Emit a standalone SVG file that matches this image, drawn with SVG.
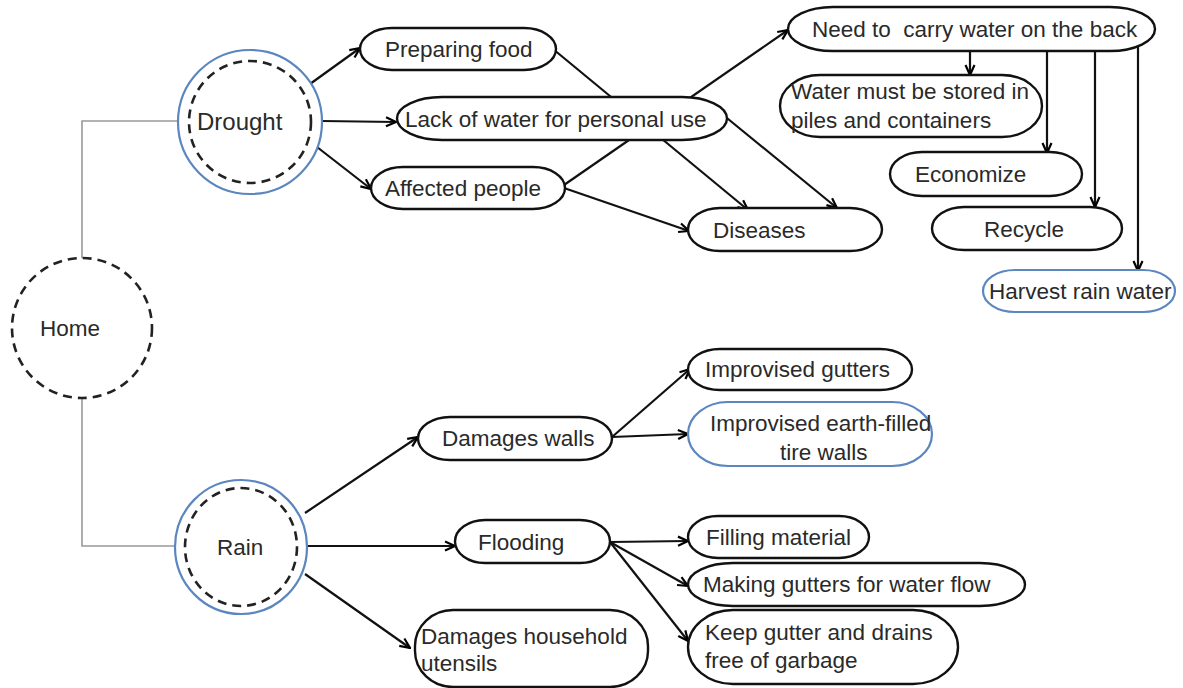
<svg xmlns="http://www.w3.org/2000/svg" width="1183" height="688" viewBox="0 0 1183 688">
<defs>
<marker id="arr" viewBox="0 0 12 12" refX="11" refY="6" markerWidth="12" markerHeight="12" markerUnits="userSpaceOnUse" orient="auto">
<path d="M1,1.5 L11,6 L1,10.5" fill="none" stroke="#000" stroke-width="2.2"/>
</marker>
<style>
text{font-family:"Liberation Sans",Arial,sans-serif;font-size:22.5px;fill:#2a2a2a}
.n{fill:#fff;stroke:#111;stroke-width:2.4}
.b{fill:#fff;stroke:#5b86c0;stroke-width:2.2}
.dash{fill:none;stroke:#222;stroke-width:2.6;stroke-dasharray:9 6}
.g{fill:none;stroke:#999;stroke-width:1.6}
.c{fill:none;stroke:#111;stroke-width:2.2;marker-end:url(#arr)}
</style>
</defs>
<rect width="1183" height="688" fill="#fff"/>

<g id="connectors">
<polyline class="g" points="82,258 82,121 178,121"/>
<polyline class="g" points="82,398 82,546 175,546"/>
<line class="c" x1="310" y1="84" x2="360" y2="48"/>
<line class="c" x1="322" y1="121" x2="396" y2="122"/>
<line class="c" x1="317" y1="147" x2="371" y2="189"/>
<line class="c" x1="553" y1="49" x2="748" y2="210"/>
<line class="c" x1="564" y1="185" x2="788" y2="30"/>
<line class="c" x1="722" y1="114" x2="837" y2="208"/>
<line class="c" x1="564" y1="188" x2="689" y2="231"/>
<line class="c" x1="970" y1="51" x2="970" y2="75"/>
<line class="c" x1="1047" y1="51" x2="1047" y2="153"/>
<line class="c" x1="1095" y1="48" x2="1095" y2="207"/>
<line class="c" x1="1138" y1="44" x2="1138" y2="271"/>
<line class="c" x1="305" y1="513" x2="418" y2="437"/>
<line class="c" x1="307" y1="546" x2="455" y2="546"/>
<line class="c" x1="305" y1="574" x2="410" y2="648"/>
<line class="c" x1="612" y1="437" x2="690" y2="369"/>
<line class="c" x1="612" y1="437" x2="688" y2="434"/>
<line class="c" x1="610" y1="542" x2="688" y2="541"/>
<line class="c" x1="610" y1="542" x2="688" y2="586"/>
<line class="c" x1="610" y1="542" x2="688" y2="641"/>
</g>

<g id="home">
<circle class="dash" cx="82" cy="328" r="70"/>
<text x="40" y="336">Home</text>
</g>
<g id="drought">
<circle cx="250" cy="122" r="72" fill="#fff" stroke="#5b86c0" stroke-width="2.2"/>
<circle class="dash" cx="250" cy="122" r="61"/>
<text x="197" y="130" style="font-size:24px">Drought</text>
</g>
<g id="rain">
<ellipse cx="241" cy="547" rx="66" ry="67" fill="#fff" stroke="#5b86c0" stroke-width="2.2"/>
<ellipse class="dash" cx="241" cy="547" rx="56" ry="59"/>
<text x="217" y="555">Rain</text>
</g>

<g id="preparing-food">
<rect class="n" x="360" y="28" width="196" height="42" rx="32" ry="21"/>
<text x="385" y="57">Preparing food</text>
</g>
<g id="lack-of-water">
<rect class="n" x="397" y="97" width="330" height="43" rx="45" ry="21.5"/>
<text x="405" y="127">Lack of water for personal use</text>
</g>
<g id="affected-people">
<rect class="n" x="371" y="167" width="194" height="42" rx="32" ry="21"/>
<text x="385" y="196">Affected people</text>
</g>
<g id="diseases">
<rect class="n" x="688" y="208" width="194" height="43" rx="32" ry="21.5"/>
<text x="713" y="238">Diseases</text>
</g>
<g id="need-to-carry">
<rect class="n" x="788" y="7" width="367" height="44" rx="45" ry="22"/>
<text x="812" y="37" xml:space="preserve">Need to  carry water on the back</text>
</g>
<g id="water-stored">
<rect class="n" x="780" y="75" width="262" height="62" rx="40" ry="31"/>
<text x="791" y="99">Water must be stored in</text>
<text x="791" y="128">piles and containers</text>
</g>
<g id="economize">
<rect class="n" x="890" y="152" width="192" height="44" rx="32" ry="22"/>
<text x="915" y="182">Economize</text>
</g>
<g id="recycle">
<rect class="n" x="932" y="207" width="190" height="43" rx="32" ry="21.5"/>
<text x="984" y="237">Recycle</text>
</g>
<g id="harvest-rain-water">
<rect class="b" x="983" y="270" width="192" height="42" rx="32" ry="21"/>
<text x="989" y="299">Harvest rain water</text>
</g>

<g id="damages-walls">
<rect class="n" x="418" y="417" width="194" height="43" rx="32" ry="21.5"/>
<text x="442" y="446">Damages walls</text>
</g>
<g id="flooding">
<rect class="n" x="455" y="520" width="155" height="43" rx="30" ry="21.5"/>
<text x="478" y="550">Flooding</text>
</g>
<g id="damages-household">
<rect class="n" x="415" y="610" width="233" height="77" rx="38" ry="36"/>
<text x="421" y="644">Damages household</text>
<text x="421" y="671">utensils</text>
</g>
<g id="improvised-gutters">
<rect class="n" x="688" y="349" width="224" height="41" rx="32" ry="20.5"/>
<text x="705" y="377">Improvised gutters</text>
</g>
<g id="tire-walls">
<rect class="b" x="688" y="402" width="244" height="64" rx="40" ry="32"/>
<text x="710" y="431">Improvised earth-filled</text>
<text x="780" y="460">tire walls</text>
</g>
<g id="filling-material">
<rect class="n" x="688" y="516" width="181" height="42" rx="30" ry="21"/>
<text x="706" y="545">Filling material</text>
</g>
<g id="making-gutters">
<rect class="n" x="688" y="563" width="337" height="43" rx="45" ry="21.5"/>
<text x="703" y="592">Making gutters for water flow</text>
</g>
<g id="keep-gutter">
<rect class="n" x="688" y="610" width="270" height="74" rx="45" ry="37"/>
<text x="705" y="640">Keep gutter and drains</text>
<text x="705" y="668">free of garbage</text>
</g>
</svg>
